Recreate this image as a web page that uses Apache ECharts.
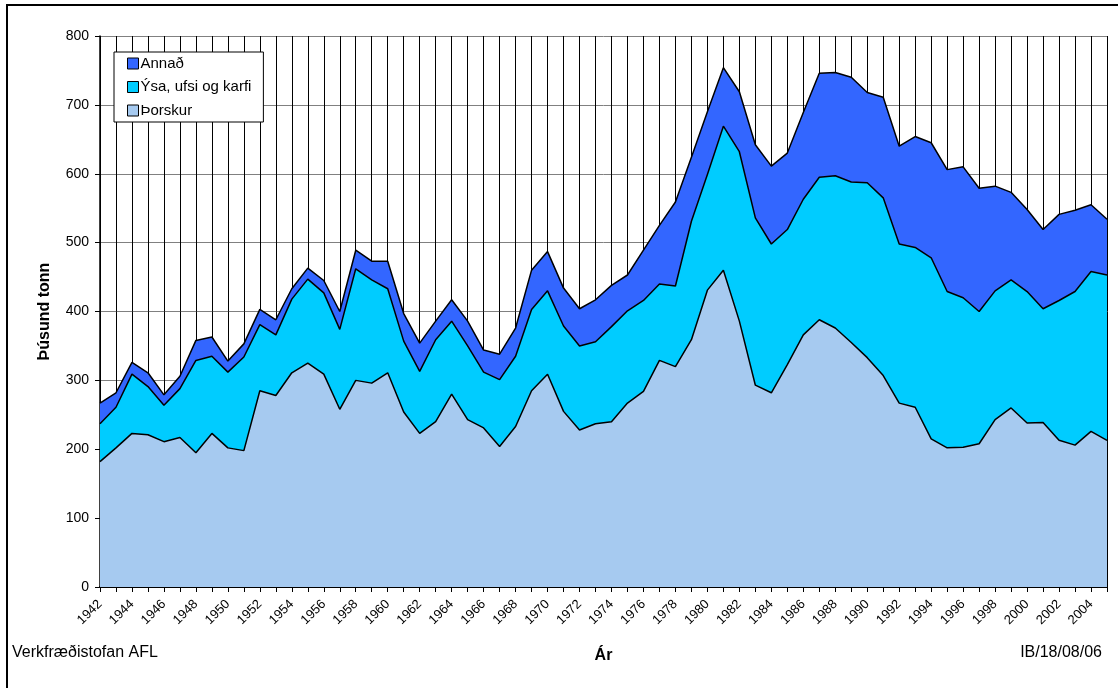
<!DOCTYPE html>
<html>
<head>
<meta charset="utf-8">
<script src="https://cdn.jsdelivr.net/npm/echarts@6/dist/echarts.min.js"></script>
<style>
  html, body { margin: 0; padding: 0; background: #fff; }
  #chart { width: 1118px; height: 688px; }
</style>
</head>
<body>
<div id="chart"></div>
<script>
// Ár
const years = [
  '1942','1943','1944','1945','1946','1947','1948','1949','1950','1951',
  '1952','1953','1954','1955','1956','1957','1958','1959','1960','1961',
  '1962','1963','1964','1965','1966','1967','1968','1969','1970','1971',
  '1972','1973','1974','1975','1976','1977','1978','1979','1980','1981',
  '1982','1983','1984','1985','1986','1987','1988','1989','1990','1991',
  '1992','1993','1994','1995','1996','1997','1998','1999','2000','2001',
  '2002','2003','2004','2005'
];

// þúsund tonn
const thorskur = [
  182, 202, 223, 221, 211, 217, 195, 223, 202, 198,
  285, 278, 311, 325, 309, 258, 300, 296, 311, 254,
  223, 240, 280, 243, 231, 204, 233, 285, 309, 255,
  228, 237, 240, 267, 284, 329, 320, 359, 431, 460,
  386, 293, 282, 323, 366, 388, 376, 355, 333, 307,
  267, 261, 215, 202, 203, 208, 243, 260, 238, 239,
  213, 206, 226, 213
];
const ysa = [
  55, 59, 86, 70, 53, 71, 134, 112, 110, 136,
  96, 88, 107, 122, 118, 116, 162, 150, 122, 103,
  90, 119, 106, 107, 81, 97, 102, 118, 121, 124,
  122, 119, 138, 134, 132, 111, 117, 172, 168, 209,
  246, 243, 216, 196, 197, 207, 221, 233, 254, 258,
  231, 232, 263, 227, 217, 192, 187, 186, 191, 165,
  203, 223, 232, 240
];
const annad = [
  30, 21, 17, 20, 15, 18, 29, 28, 16, 19,
  22, 22, 15, 16, 18, 26, 27, 27, 40, 40,
  41, 27, 31, 36, 32, 37, 41, 57, 57, 55,
  54, 61, 60, 52, 73, 85, 122, 93, 91, 85,
  87, 106, 113, 111, 126, 151, 150, 152, 131, 146,
  142, 161, 167, 177, 190, 179, 152, 127, 119, 115,
  125, 118, 97, 81
];

const yTicks = { min: 0, max: 800, interval: 100 };

const chart = echarts.init(document.getElementById('chart'));
const font = 'Liberation Sans, Arial, sans-serif';
const colors = ['#a6caf0', '#00ccff', '#3366ff'];

function area(name, data, color) {
  return {
    name: name,
    type: 'line',
    stack: 'total',
    data: data,
    showSymbol: false,
    symbol: 'none',
    itemStyle: { color: color },
    lineStyle: { color: '#000', width: 1.5 },
    areaStyle: { color: color, opacity: 1 },
    emphasis: { disabled: true },
    animation: false
  };
}

const option = {
  backgroundColor: '#fff',
  textStyle: { fontFamily: font, color: '#000' },
  grid: { left: 100, right: 11, top: 36, bottom: 101 },
  legend: {
    orient: 'vertical',
    left: 114,
    top: 52,
    data: ['Annað', 'Ýsa, ufsi og karfi', 'Þorskur'],
    icon: 'rect',
    itemWidth: 11,
    itemHeight: 11,
    itemGap: 8.5,
    padding: [4, 12, 4, 13],
    backgroundColor: '#fff',
    borderColor: '#000',
    borderWidth: 1,
    itemStyle: { borderColor: '#000', borderWidth: 1 },
    textStyle: { fontFamily: font, fontSize: 15, color: '#000', padding: [0, 0, 0, -3] },
    selectedMode: false
  },
  xAxis: {
    type: 'category',
    data: years,
    boundaryGap: false,
    name: 'Ár',
    nameLocation: 'middle',
    nameGap: 61,
    nameTextStyle: { fontFamily: font, fontSize: 16, fontWeight: 'bold', color: '#000' },
    axisLine: { lineStyle: { color: '#000', width: 2 } },
    axisTick: { show: true, interval: 0, length: 5, lineStyle: { color: '#000' } },
    axisLabel: { interval: 1, rotate: 45, fontSize: 13, color: '#000', fontFamily: font, margin: 15 },
    splitLine: { show: true, interval: 0, lineStyle: { color: '#000', width: 1 } }
  },
  yAxis: {
    type: 'value',
    min: yTicks.min,
    max: yTicks.max,
    interval: yTicks.interval,
    name: 'Þúsund tonn',
    nameLocation: 'middle',
    nameGap: 47,
    nameRotate: 90,
    nameTextStyle: { fontFamily: font, fontSize: 16, fontWeight: 'bold', color: '#000' },
    axisLine: { show: true, lineStyle: { color: '#000', width: 1.5 } },
    axisTick: { show: true, length: 5, lineStyle: { color: '#000' } },
    axisLabel: { fontSize: 14, color: '#000', fontFamily: font, margin: 11 },
    splitLine: { show: true, lineStyle: { color: '#808080', width: 1 } }
  },
  series: [
    area('Þorskur', thorskur, colors[0]),
    area('Ýsa, ufsi og karfi', ysa, colors[1]),
    area('Annað', annad, colors[2])
  ],
  graphic: [
    {
      type: 'rect',
      shape: { x: 7, y: 5, width: 1200, height: 800 },
      style: { fill: 'none', stroke: '#000', lineWidth: 2 },
      silent: true
    },
    {
      type: 'text',
      left: 12,
      top: 645,
      style: { text: 'Verkfræðistofan AFL', fontFamily: font, fontSize: 16, fill: '#000' }
    },
    {
      type: 'text',
      right: 16,
      top: 645,
      style: { text: 'IB/18/08/06', fontFamily: font, fontSize: 16, fill: '#000' }
    }
  ]
};

chart.setOption(option);
</script>
</body>
</html>
